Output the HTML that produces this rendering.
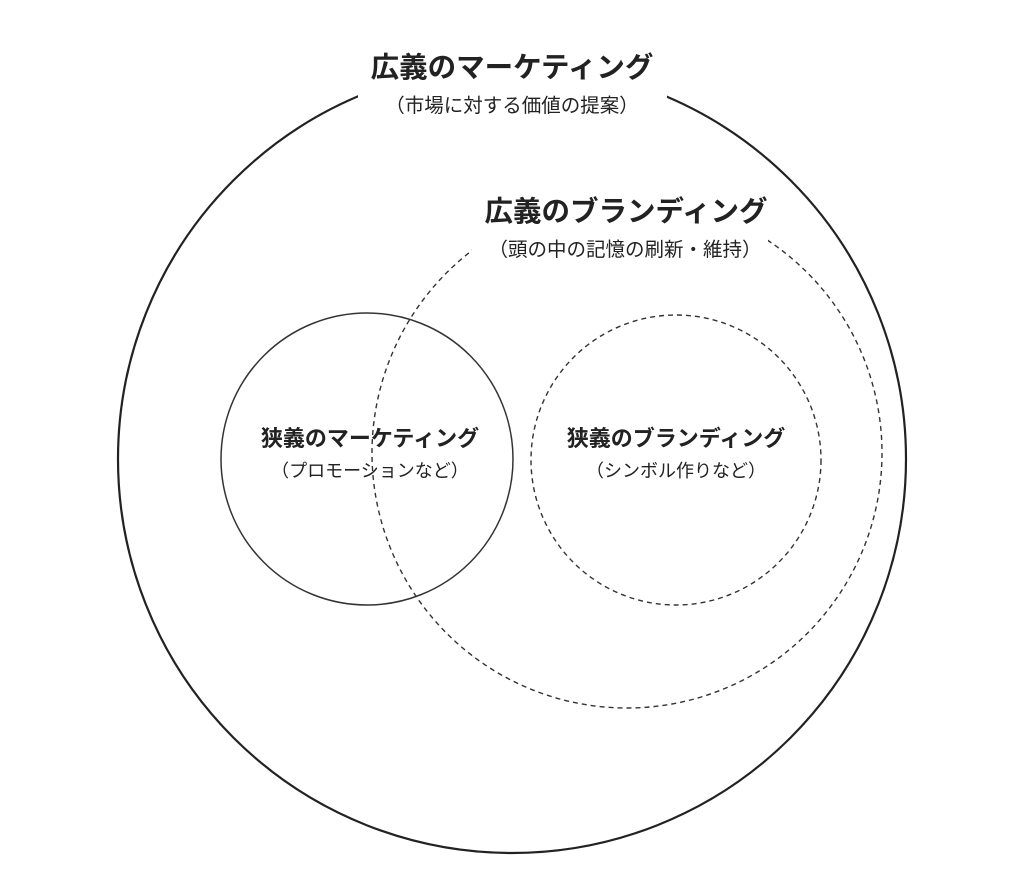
<!DOCTYPE html>
<html><head><meta charset="utf-8"><style>
html,body{margin:0;padding:0;background:#fff;}
svg{display:block}
text{font-family:"Liberation Sans","Noto Sans CJK JP",sans-serif;fill:#222;text-anchor:middle}
.t{font-weight:bold;font-size:28.5px}
.s{font-size:19.5px}
.it{font-weight:bold;font-size:22px}
.is{font-size:18px}
</style></head><body>
<svg width="1024" height="891" viewBox="0 0 1024 891">
<circle cx="512" cy="459" r="394" fill="none" stroke="#222" stroke-width="2.2"/>
<circle cx="627" cy="453" r="255" fill="none" stroke="#333" stroke-width="1.4" stroke-dasharray="5,4"/>
<circle cx="367" cy="459" r="146" fill="none" stroke="#333" stroke-width="1.5"/>
<circle cx="676" cy="460" r="145" fill="none" stroke="#333" stroke-width="1.4" stroke-dasharray="5,4"/>
<rect x="358" y="40" width="309" height="80" fill="#fff"/>
<rect x="472" y="188" width="296" height="74" fill="#fff"/>
<text class="t" x="512" y="77">広義のマーケティング</text>
<text class="s" x="512" y="112">（市場に対する価値の提案）</text>
<text class="t" x="626" y="221">広義のブランディング</text>
<text class="s" x="625" y="256">（頭の中の記憶の刷新・維持）</text>
<text class="it" x="370" y="446">狭義のマーケティング</text>
<text class="is" x="370" y="477">（プロモーションなど）</text>
<text class="it" x="676" y="446">狭義のブランディング</text>
<text class="is" x="676" y="477">（シンボル作りなど）</text>
</svg>
</body></html>
